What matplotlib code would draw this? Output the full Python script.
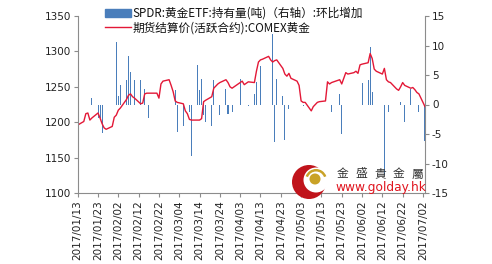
import numpy as np
import pandas as pd
import matplotlib
matplotlib.use("Agg")
import matplotlib.pyplot as plt
import matplotlib.dates as mdates
from matplotlib.patches import Circle, Rectangle, Wedge
from matplotlib.lines import Line2D

plt.rcParams['font.family'] = ['DejaVu Sans']
plt.rcParams['axes.unicode_minus'] = False
CJK = ['Noto Sans CJK SC', 'DejaVu Sans']

# trading days 2017/01/13 .. 2017/07/03
dates = pd.bdate_range("2017-01-13", "2017-07-03")

# COMEX gold settlement price, one value per trading day
price = [
    1196,
    1201, 1212, 1213, 1203, 1206,
    1213, 1206, 1198, 1192, 1190,
    1194, 1207, 1210, 1217, 1220,
    1232, 1238, 1240, 1236, 1234,
    1226, 1227, 1240, 1241, 1241,
    1241, 1241, 1234, 1254, 1258,
    1260, 1252, 1243, 1230, 1228,
    1226, 1216, 1212, 1204, 1203,
    1203, 1203, 1205, 1229, 1231,
    1236, 1248, 1251, 1254, 1256,
    1260, 1256, 1250, 1248, 1250,
    1256, 1258, 1253, 1255, 1257,
    1256, 1272, 1285, 1288, 1289,
    1293, 1288, 1285, 1287, 1288,
    1276, 1268, 1265, 1269, 1262,
    1258, 1252, 1230, 1228, 1228,
    1216, 1222, 1225, 1228, 1229,
    1230, 1257, 1254, 1256, 1257,
    1260, 1254, 1262, 1270, 1268,
    1270, 1272, 1269, 1281, 1282,
    1284, 1297, 1290, 1275, 1272,
    1268, 1276, 1260, 1257, 1256,
    1247, 1245, 1250, 1256, 1252,
    1248, 1249, 1246, 1242, 1240,
    1222,
]

# SPDR gold ETF holdings, day-on-day change (tonnes), only non-zero days
bar_dates = [
    "2017-01-13", "2017-01-20", "2017-01-23", "2017-01-24", "2017-01-25",
    "2017-02-01", "2017-02-02", "2017-02-03", "2017-02-06", "2017-02-07",
    "2017-02-08", "2017-02-10", "2017-02-13", "2017-02-15", "2017-02-17",
    "2017-03-02", "2017-03-03", "2017-03-06", "2017-03-09", "2017-03-10",
    "2017-03-13", "2017-03-14", "2017-03-15", "2017-03-16", "2017-03-17",
    "2017-03-20", "2017-03-21", "2017-03-24", "2017-03-27", "2017-03-28",
    "2017-03-30", "2017-04-03", "2017-04-07", "2017-04-10", "2017-04-11",
    "2017-04-13", "2017-04-19", "2017-04-20", "2017-04-21", "2017-04-24",
    "2017-04-25", "2017-04-27", "2017-05-04", "2017-05-18", "2017-05-22",
    "2017-05-23", "2017-06-02", "2017-06-05", "2017-06-06", "2017-06-07",
    "2017-06-13", "2017-06-15", "2017-06-21", "2017-06-23", "2017-06-26",
    "2017-06-30", "2017-07-03",
]
bar_vals = [
    3.0, 1.1, -2.3, -2.3, -4.8,
    10.6, 1.4, 3.3, 4.1, 8.2,
    5.5, 4.1, 4.1, 2.6, -2.3,
    2.4, -4.7, -3.7, -1.2, -8.8,
    6.7, 2.5, 4.4, -1.8, -2.9,
    -3.7, 4.1, -1.8, 2.6, -1.6,
    -1.2, 4.3, -0.3, 1.8, 3.8,
    6.5, 12.0, -6.4, 4.4, 1.4,
    -6.0, -0.8, -0.3, -1.2, 1.8,
    -5.0, 3.6, 4.1, 9.7, 2.2,
    -12.0, -1.2, 0.5, -2.9, 2.7,
    -1.2, -6.2,
]

tick_dates = pd.date_range("2017-01-13", "2017-07-02", freq="10D")
bar_label = "SPDR:黄金ETF:持有量(吨)（右轴）:环比增加"
line_label = "期货结算价(活跃合约):COMEX黄金"
logo_chars = ["金", "盛", "貴", "金", "屬"]

BLUE = "#4A7EBB"
RED = "#E31837"
GREY = "#8C8C8C"

W, H = 492, 264
fig = plt.figure(figsize=(W / 100, H / 100), dpi=100, facecolor="white")
ax = fig.add_axes([77.7 / W, 1 - 193 / H, (425 - 77.7) / W, (193 - 16) / H])
ax2 = ax.twinx()

ax2.bar(pd.to_datetime(bar_dates), bar_vals, width=0.5, color=BLUE, linewidth=0)
ax.plot(dates, price, color=RED, lw=1.0)

ax.set_zorder(ax2.get_zorder() + 1)
ax.patch.set_visible(False)

ax.set_xlim(mdates.date2num(pd.Timestamp("2017-01-13")), mdates.date2num(pd.Timestamp("2017-07-03")))
ax.set_ylim(1100, 1350)
ax.set_yticks(np.arange(1100, 1351, 50))
ax2.set_ylim(-15, 15)
ax2.set_yticks(np.arange(-15, 16, 5))
ax.set_xticks(tick_dates)
ax.xaxis.set_major_formatter(mdates.DateFormatter("%Y/%m/%d"))
for lab in ax.get_xticklabels():
    lab.set_rotation(90)

for a in (ax, ax2):
    for s in a.spines.values():
        s.set_color(GREY)
        s.set_linewidth(0.8)
    a.spines["top"].set_visible(False)
    a.tick_params(colors=GREY, labelcolor="#222222", labelsize=7.5, length=3, width=0.8, pad=2)
ax.spines["right"].set_visible(False)
ax2.spines["left"].set_visible(False)
ax2.spines["bottom"].set_visible(False)

handles = [Rectangle((0, 0), 1, 1, color=BLUE), Line2D([], [], color=RED, lw=1.0)]
leg = fig.legend(handles, [bar_label, line_label], loc="upper left",
                 bbox_to_anchor=(105 / W, 1 - 7 / H), frameon=False,
                 prop={"family": CJK, "size": 8.4}, handlelength=2.2, handleheight=0.6,
                 handletextpad=0.15, labelspacing=0.12, borderaxespad=0, borderpad=0)
for t in leg.get_texts():
    t.set_color("#111111")

# golday logo
lg = fig.add_axes([0, 0, 1, 1], zorder=10)
lg.set_xlim(0, W)
lg.set_ylim(H, 0)
lg.axis("off")
lg.add_patch(Circle((309, 182), 17, color="#C0141B", lw=0))
lg.add_patch(Circle((316, 180), 12.5, color="white", lw=0))
lg.add_patch(Wedge((316, 180), 11, 200, 340, width=2.5, color="#C9A227", lw=0))
lg.add_patch(Circle((315, 179), 5.5, color="#C9A227", lw=0))
for i, ch in enumerate(logo_chars):
    lg.text(343 + i * 18.5, 174, ch, family=CJK, fontsize=8.5, color="#333333",
            ha="center", va="center")
lg.text(381, 188, "www.golday.hk", fontsize=8.8, color="#E0141E", ha="center", va="center")

fig.savefig("out.png", dpi=100, facecolor="white")
